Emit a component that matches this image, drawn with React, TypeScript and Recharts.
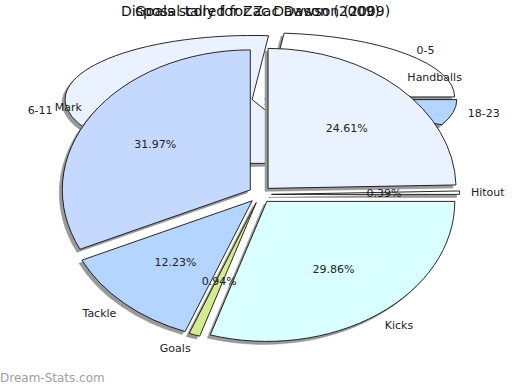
import React from 'react';
import { PieChart, Pie, Cell } from 'recharts';

// front pie: disposal tally (clockwise from 12 o'clock)
const disposalNames = ['Handballs', 'Hitout', 'Kicks', 'Goals', 'Tackle', 'Mark'];
const disposalValues = [24.61, 0.39, 29.86, 0.94, 12.23, 31.97];
const disposalColors = ['#ebf2ff', '#ffffff', '#d9ffff', '#d3ec8e', '#b4d5ff', '#c5d9ff'];

// back pie: goals by time band (counter-clockwise from 3 o'clock)
const bandNames = ['0-5', '6-11', '12-17', '18-23'];
const bandValues = [23.6, 57.8, 12.2, 6.4];
const bandColors = ['#ffffff', '#ebf2ff', '#c5d9ff', '#b4d5ff'];

const disposalData = disposalNames.map((name, i) => ({ name, value: disposalValues[i] }));
const bandData = bandNames.map((name, i) => ({ name, value: bandValues[i] }));

const RAD = Math.PI / 180;
const FONT = '"DejaVu Sans", Verdana, sans-serif';

const front = { cx: 260, cy: 194.5, rx: 188, ry: 140, explode: 11.5, lx: 23, ly: 23 };
const back = { cx: 261, cy: 99, rx: 187, ry: 64, explode: 9, lx: 24, ly: 8 };

type Geo = typeof front;

// flattened (elliptical) exploded sector with a drop shadow
const makeSlice = (g: Geo) => (props: any) => {
  const { cx, cy, startAngle, endAngle, fill } = props;
  const mid = (startAngle + endAngle) / 2;
  const ax = cx + g.explode * Math.cos(mid * RAD);
  const ay = cy - g.explode * (g.ry / g.rx) * Math.sin(mid * RAD);
  const x1 = ax + g.rx * Math.cos(startAngle * RAD);
  const y1 = ay - g.ry * Math.sin(startAngle * RAD);
  const x2 = ax + g.rx * Math.cos(endAngle * RAD);
  const y2 = ay - g.ry * Math.sin(endAngle * RAD);
  const large = Math.abs(endAngle - startAngle) > 180 ? 1 : 0;
  const sweep = endAngle < startAngle ? 1 : 0;
  const d = `M${ax},${ay} L${x1},${y1} A${g.rx},${g.ry} 0 ${large} ${sweep} ${x2},${y2} Z`;
  return (
    <g>
      <path d={d} transform="translate(-3,3)" fill="#9a9a9a" stroke="#8a8a8a" strokeWidth={0.5} />
      <path d={d} fill={fill} stroke="#111" strokeWidth={0.9} />
    </g>
  );
};

const makeLabel = (g: Geo, showPct: boolean) => (props: any) => {
  const { cx, cy, midAngle, percent, name } = props;
  const c = Math.cos(midAngle * RAD);
  const s = Math.sin(midAngle * RAD);
  const ox = cx + (g.rx + g.lx) * c;
  const oy = cy - (g.ry + g.ly) * s;
  const ix = cx + 0.66 * g.rx * c;
  const iy = cy - 0.66 * g.ry * s;
  return (
    <g>
      <text x={ox} y={oy} textAnchor={c >= 0 ? 'start' : 'end'} dominantBaseline="central"
        fontFamily={FONT} fontSize={11} fill="#222">{name}</text>
      {showPct && (
        <text x={ix} y={iy} textAnchor="middle" dominantBaseline="central"
          fontFamily={FONT} fontSize={11} fill="#222">{(percent * 100).toFixed(2)}%</text>
      )}
    </g>
  );
};

const layer: React.CSSProperties = { position: 'absolute', left: 0, top: 0 };
const noMargin = { top: 0, right: 0, bottom: 0, left: 0 };

export default function App() {
  return (
    <div style={{ position: 'absolute', left: 0, top: 0, width: 520, height: 390, background: '#fff', overflow: 'hidden' }}>
      <div style={layer}>
        <PieChart width={520} height={390} margin={noMargin}>
          <Pie
            data={bandData}
            dataKey="value"
            nameKey="name"
            cx={back.cx}
            cy={back.cy}
            outerRadius={back.rx}
            startAngle={0}
            endAngle={360}
            shape={makeSlice(back)}
            label={makeLabel(back, false)}
            labelLine={false}
            stroke="none"
            isAnimationActive={false}
          >
            {bandData.map((d, i) => <Cell key={d.name} fill={bandColors[i]} />)}
          </Pie>
        </PieChart>
      </div>
      <div style={layer}>
        <PieChart width={520} height={390} margin={noMargin}>
          <Pie
            data={disposalData}
            dataKey="value"
            nameKey="name"
            cx={front.cx}
            cy={front.cy}
            outerRadius={front.rx}
            startAngle={90}
            endAngle={-270}
            shape={makeSlice(front)}
            label={makeLabel(front, true)}
            labelLine={false}
            stroke="none"
            isAnimationActive={false}
          >
            {disposalData.map((d, i) => <Cell key={d.name} fill={disposalColors[i]} />)}
          </Pie>
        </PieChart>
      </div>
      <div style={{ position: 'absolute', left: 121, top: 3, fontFamily: FONT, fontSize: 14, color: '#111', whiteSpace: 'nowrap' }}>
        Disposal tally for Zac Dawson (2009)
      </div>
      <div style={{ position: 'absolute', left: 135, top: 3, fontFamily: FONT, fontSize: 14, color: '#111', whiteSpace: 'nowrap' }}>
        Goals scored for Zac Dawson (2009)
      </div>
      <div style={{ position: 'absolute', left: 0, top: 371, fontFamily: FONT, fontSize: 12, color: '#a0a0a0', whiteSpace: 'nowrap' }}>
        Dream-Stats.com
      </div>
    </div>
  );
}
